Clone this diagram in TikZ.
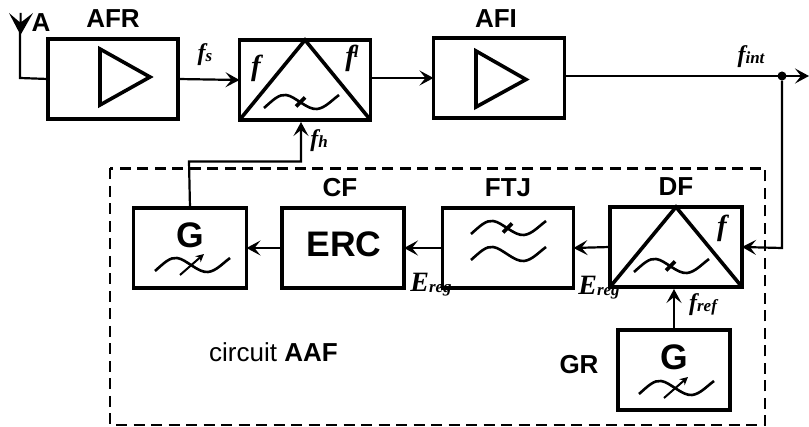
\documentclass[tikz,border=0pt]{standalone}
\usepackage{fontspec}
\setmainfont{Liberation Sans}
\newfontfamily\serifbi{Liberation Serif}
\usetikzlibrary{arrows.meta,calc}
\newcommand{\mysym}[2]{{\fontsize{#1}{#1}\selectfont\serifbi\bfseries\itshape #2}}
\newcommand{\fl}[2]{\mysym{24}{#1}\raisebox{-1pt}{\mysym{17}{#2}}}
\newcommand{\el}[2]{\mysym{28}{#1}\raisebox{-1pt}{\mysym{17}{#2}}}
\tikzset{
  x=1pt,y=-1pt,
  box/.style={draw,line width=3.6pt,rectangle,inner sep=0pt,outer sep=0pt,minimum width=#1,minimum height=80pt},
  box/.default=130pt,
  conn/.style={line width=2.2pt,-{Stealth[length=14pt,width=15pt,inset=6pt]}},
  wire/.style={line width=2.2pt},
  heavy/.style={line width=3.6pt,line join=miter},
  title/.style={font=\fontsize{26}{26}\selectfont\bfseries,inner sep=0pt},
  big/.style={font=\fontsize{35.5}{35.5}\selectfont\bfseries,inner sep=0pt},
  sym/.style={inner sep=0pt},
  wavy/.pic={
    \draw[line width=2.6pt] (-37,6) .. controls (-28,-2) and (-22,-8) .. (-15,-7)
      .. controls (-6,-6) and (6,8) .. (16,7) .. controls (24,6) and (30,-1) .. (38,-7);
  },
  tick/.pic={\draw[line width=3.6pt] (-4,4.5) -- (5,-4.5);},
  tune/.pic={\draw[line width=2pt,-{Stealth[length=8pt,width=8pt]}] (-11,10) -- (13,-11);},
}
\begin{document}
\begin{tikzpicture}
\useasboundingbox (0,0) rectangle (809,427);

% main chain
\node[box] (afr) at (113,79) {};
\node[box=131pt] (mix) at (305,80) {};
\node[box=131pt] (afi) at (499,78) {};
\draw[heavy] (100,49) -- (150,77) -- (100,105) -- cycle;
\draw[heavy] (476,51) -- (526,79.5) -- (476,107) -- cycle;

% antenna
\coordinate (ant) at (20,32);
\draw[wire] (ant) -- (20,78) -- (afr.west);
\fill (9,13) -- (19.5,22) -- (19.5,13) -- (21.5,13) -- (21.5,22) -- (33,13) -- (20.5,35) -- cycle;
\node[title,anchor=base] (atxt) at (41,32) {A};
\node[title,anchor=base] (afrt) at (113,28) {AFR};
\node[title,anchor=base] (afit) at (496,28) {AFI};

% mixer
\draw[heavy] (mix.south west) -- (mix.north) -- (mix.south east);
\pic at (301,102) {wavy};
\pic at (300,102) {tick};
\node[sym] (f1) at (256,68) {\mysym{29}{f}};
\node[sym] (f2) at (352,58) {\mysym{29}{f}\kern-1pt\raisebox{8pt}{\mysym{17}{l}}};
\node[sym] (fs) at (205,55) {\fl{f}{s}};
\node[sym] (fh) at (319,141) {\fl{f}{h}};
\draw[conn] (afr.east) -- (mix.west);
\draw[conn] (mix.east |- 0,78) -- (afi.west);

% output
\coordinate (out) at (809,76);
\node[circle,fill,inner sep=0pt,minimum size=9pt] (dot) at (782,76) {};
\draw[conn] (afi.east |- out) -- (out);
\node[sym] (fint) at (751,57) {\fl{f}{int}};

% dashed frame
\draw[line width=2.4pt,dash pattern=on 11pt off 6.5pt] (110,168.5) rectangle (765,425);

% feedback row
\node[box=113pt] (gen) at (190,248) {};
\node[box=122pt] (erc) at (343,248) {};
\node[box=131pt] (ftj) at (508,248) {};
\node[box=132pt] (df) at (676,247) {};
\node[box=112pt] (gr) at (674,370) {};

\node[big,anchor=base] (gtxt) at (190,248) {G};
\pic at (192,265) {wavy};
\pic at (191,265) {tune};
\node[big,anchor=base] (erct) at (344,257) {ERC};
\pic at (508,228) {wavy};
\pic at (507,228) {tick};
\pic at (508,254) {wavy};
\draw[heavy] (df.south west) -- (df.north) -- (df.south east);
\pic at (671,266) {wavy};
\pic at (670,266) {tick};
\node[sym] (f3) at (722,228) {\mysym{29}{f}};
\node[big,anchor=base] (grg) at (674,370) {G};
\pic at (676,388) {wavy};
\pic at (675,388) {tune};

\draw[conn] (erc.west) -- (gen.east);
\draw[conn] (ftj.west) -- (erc.east);
\draw[conn] (df.west) -- (ftj.east);
\draw[conn] (gr.north) -- (gr.north |- 0,289);
\draw[conn] (dot.south) -- (782,248) -- (df.east);
\draw[conn] (gen.north) -- (189,161.5) -- (301,161.5) -- (301,122);

\node[title,anchor=base] (cft) at (340,197) {CF};
\node[title,anchor=base] (ftjt) at (508,197) {FTJ};
\node[title,anchor=base] (dft) at (676,196) {DF};
\node[title,anchor=base] (grt) at (579,374) {GR};
\node[sym] (e1) at (431,285) {\el{E}{reg}};
\node[sym] (e2) at (599,288) {\el{E}{reg}};
\node[sym] (fr) at (703,305) {\fl{f}{ref}};
\node[anchor=base west,inner sep=0pt,font=\fontsize{26}{26}\selectfont] (aaf) at (209,362) {circuit \textbf{AAF}};
\end{tikzpicture}
\end{document}
